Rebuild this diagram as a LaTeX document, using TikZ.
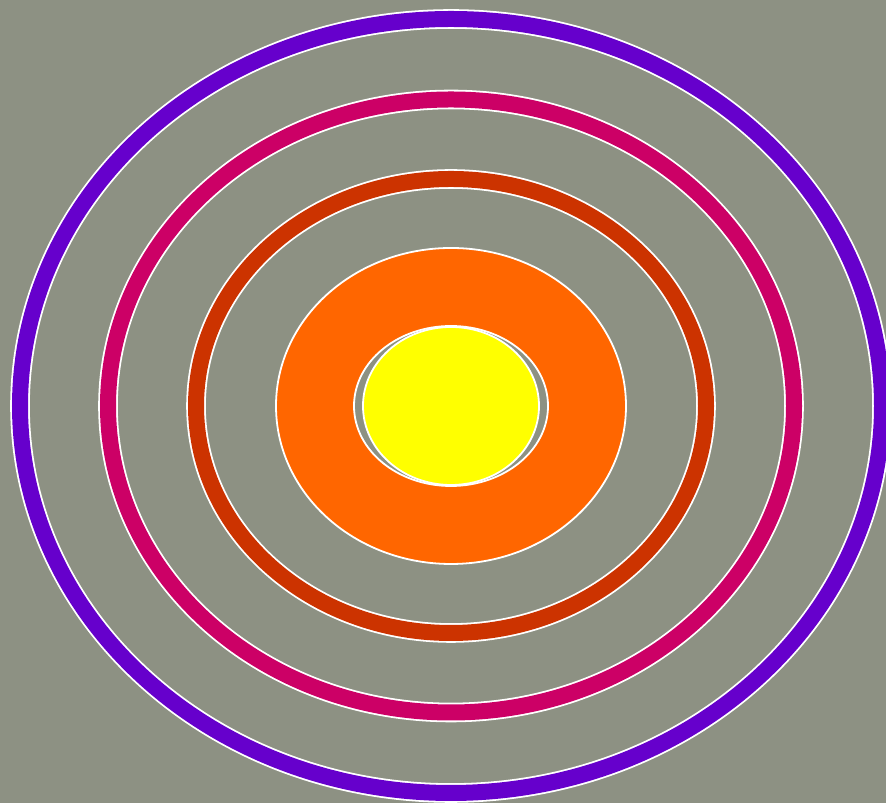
\documentclass[tikz,border=0pt]{standalone}
\usepackage{xcolor}
\usepackage{tikz}
\definecolor{slate}{HTML}{8D9183}
\definecolor{violet}{HTML}{6600CC}
\definecolor{rose}{HTML}{CC0066}
\definecolor{rust}{HTML}{CC3300}
\definecolor{flame}{HTML}{FF6600}
\definecolor{sun}{HTML}{FFFF00}
\tikzset{
  ring/.style   = {draw=white, line width=0.018cm, double distance=0.16cm},
  disc/.style   = {draw=white, line width=0.018cm},
}

\begin{document}
\begin{tikzpicture}
  % canvas
  \fill[slate] (0,0) rectangle (8.86,8.03);
  \useasboundingbox (0,0) rectangle (8.86,8.03);
  \coordinate (c) at (4.51,3.97);

  % rings
  \draw[ring, double=violet] (c) ellipse [x radius=4.31, y radius=3.87];
  \draw[ring, double=rose]   (c) ellipse [x radius=3.43, y radius=3.065];
  \draw[ring, double=rust]   (c) ellipse [x radius=2.55, y radius=2.27];

  % core
  \fill[flame, disc] (c) ellipse [x radius=1.75, y radius=1.58];
  \fill[slate, disc] (c) ellipse [x radius=0.97, y radius=0.80];
  \fill[sun, disc]   (c) ellipse [x radius=0.88, y radius=0.79];
\end{tikzpicture}
\end{document}
